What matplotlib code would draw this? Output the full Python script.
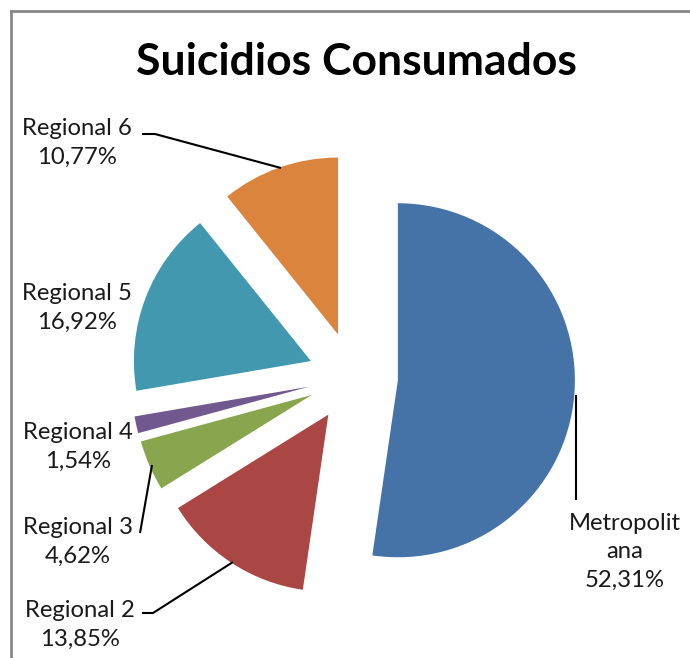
import matplotlib
matplotlib.use("Agg")
import matplotlib.pyplot as plt
from matplotlib.lines import Line2D

categories = ["Metropolitana", "Regional 2", "Regional 3", "Regional 4", "Regional 5", "Regional 6"]
values = [52.31, 13.85, 4.62, 1.54, 16.92, 10.77]
label_texts = ["Metropolit\nana\n52,31%", "Regional 2\n13,85%", "Regional 3\n4,62%",
               "Regional 4\n1,54%", "Regional 5\n16,92%", "Regional 6\n10,77%"]
colors = ["#4572A7", "#AA4643", "#89A54E", "#71588F", "#4198AF", "#DB843D"]

W, H = 690, 658
fig = plt.figure(figsize=(W / 100, H / 100), dpi=100)
ax = fig.add_axes([0, 0, 1, 1])

R = 177
cx, cy = 353, H - 377
ax.pie(values, colors=colors, startangle=90, counterclock=False,
       radius=R, center=(cx, cy), explode=[45] * len(values),
       wedgeprops=dict(linewidth=0), frame=False)
ax.set_xlim(0, W)
ax.set_ylim(0, H)
ax.set_aspect("equal")
ax.axis("off")

font = "Lato"
fs = 17.2
# label positions (image pixel coords of text center)
pos = [(625, 552), (80, 625), (78, 542), (78, 447), (77, 308), (77, 143)]
for t, (x, y) in zip(label_texts, pos):
    ax.text(x, H - y, t, ha="center", va="center", fontsize=fs, family=font,
            color="#1a1a1a", linespacing=1.45, multialignment="center")

# leader lines (image coords)
leaders = [
    [(576, 395), (576, 500)],
    [(142, 613), (153, 613), (233, 562)],
    [(140, 533), (152, 465)],
    [(142, 134), (155, 134), (281, 168)],
]
for pts in leaders:
    xs = [p[0] for p in pts]
    ys = [H - p[1] for p in pts]
    ax.plot(xs, ys, color="black", lw=1.5, solid_capstyle="butt")

fig.text(356 / W, 1 - 62 / H, "Suicidios Consumados", ha="center", va="center",
         fontsize=32, fontweight="bold", family=font, color="black")

# frame border (left and top visible)
fig.add_artist(Line2D([10.5 / W, 10.5 / W], [0, 1 - 10.5 / H], transform=fig.transFigure,
                      color="#888888", lw=2))
fig.add_artist(Line2D([10.5 / W, 1], [1 - 10.5 / H, 1 - 10.5 / H], transform=fig.transFigure,
                      color="#888888", lw=2))

fig.savefig("out.png", dpi=100, facecolor="white")
